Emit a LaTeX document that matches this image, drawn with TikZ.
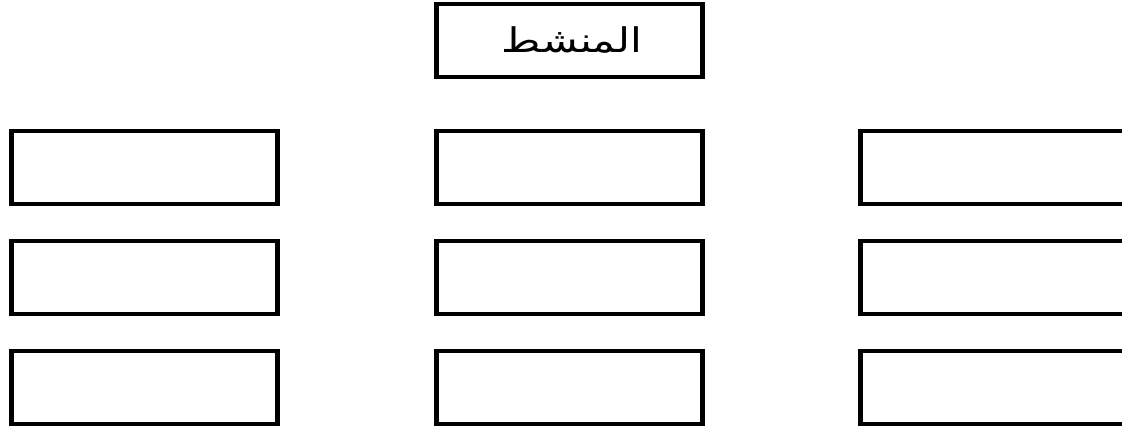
\documentclass[tikz,border=0pt]{standalone}
\usepackage{fontspec}
\usepackage{graphicx}
\TeXXeTstate=1
\newfontfamily\arabicfont[Script=Arabic]{DejaVu Sans}
\tikzset{
  cell/.style={draw=black, line width=4.5pt, fill=white, minimum width=266pt, minimum height=73pt, inner sep=0pt, anchor=north west},
  label/.style={inner sep=0pt, font=\arabicfont\fontsize{34}{40}\selectfont}
}
\begin{document}
\begin{tikzpicture}[x=1pt,y=-1pt]
\useasboundingbox (0,0) rectangle (1122,427);
\clip (0,0) rectangle (1122,427);
\node[cell] (top) at (434,2) {};
\node[label] (toptext) at (572,40) {\scalebox{1.25}[1]{\beginR المنشط\endR}};
\node[cell] (l1) at (9,129) {};
\node[cell] (m1) at (434,129) {};
\node[cell] (r1) at (858,129) {};
\node[cell] (l2) at (9,239) {};
\node[cell] (m2) at (434,239) {};
\node[cell] (r2) at (858,239) {};
\node[cell] (l3) at (9,349) {};
\node[cell] (m3) at (434,349) {};
\node[cell] (r3) at (858,349) {};
\end{tikzpicture}
\end{document}
